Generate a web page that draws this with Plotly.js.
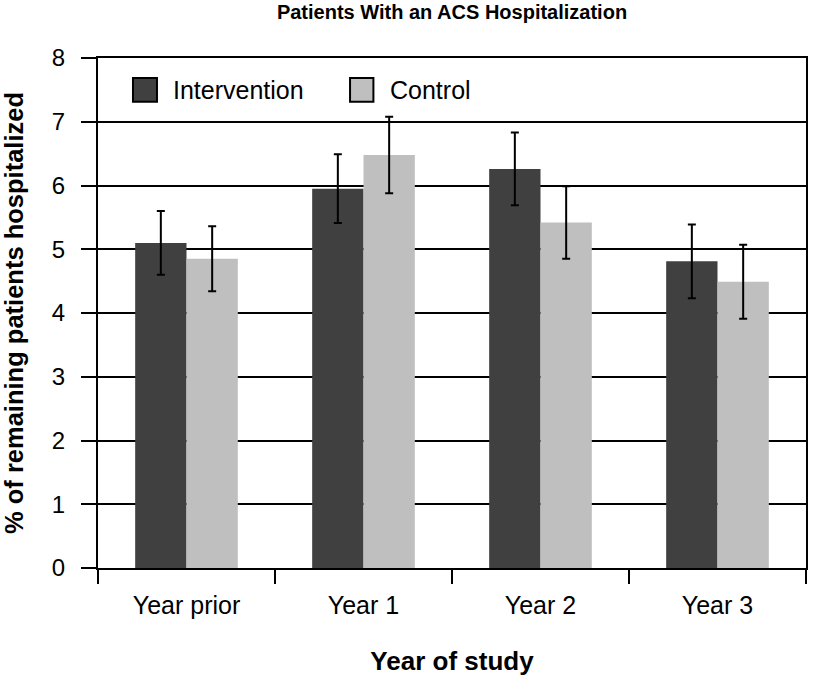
<!DOCTYPE html>
<html>
<head>
<meta charset="utf-8">
<script src="https://cdn.plot.ly/plotly-3.0.1.min.js"></script>
<style>html,body{margin:0;padding:0;background:#fff;}#chart{width:813px;height:678px;}</style>
</head>
<body>
<div id="chart"></div>
<script>
var categories = ["Year prior", "Year 1", "Year 2", "Year 3"];
var interventionValues = [5.10, 5.95, 6.26, 4.81];
var interventionErrors = [0.50, 0.54, 0.57, 0.58];
var controlValues = [4.85, 6.48, 5.42, 4.49];
var controlErrors = [0.51, 0.60, 0.57, 0.58];
var seriesNames = ["Intervention", "Control"];
var yTicks = [0, 1, 2, 3, 4, 5, 6, 7, 8];

var FONT = "Liberation Sans, Arial, sans-serif";
var darkCol = "#404040";
var lightCol = "#bfbfbf";

var traces = [
  {
    type: "bar", name: seriesNames[0], x: categories, y: interventionValues,
    marker: {color: darkCol, line: {width: 0}},
    error_y: {type: "data", array: interventionErrors, visible: true, color: "#000", thickness: 2, width: 4},
    showlegend: false, hoverinfo: "skip"
  },
  {
    type: "bar", name: seriesNames[1], x: categories, y: controlValues,
    marker: {color: lightCol, line: {width: 0}},
    error_y: {type: "data", array: controlErrors, visible: true, color: "#000", thickness: 2, width: 4},
    showlegend: false, hoverinfo: "skip"
  }
];

var layout = {
  width: 813, height: 678,
  margin: {l: 98, r: 7, t: 58, b: 110},
  paper_bgcolor: "#fff", plot_bgcolor: "#fff",
  font: {family: FONT, color: "#000"},
  barmode: "group", bargap: 0.42, bargroupgap: 0,
  title: {text: "<b>Patients With an ACS Hospitalization</b>", x: 0.5, xref: "paper", xanchor: "center",
          y: 1, yref: "container", yanchor: "top", pad: {t: 5},
          font: {family: FONT, size: 20, color: "#000"}},
  xaxis: {
    type: "category", tickson: "boundaries", ticks: "outside", ticklen: 14, tickwidth: 2, tickcolor: "#000",
    showline: true, linecolor: "#000", linewidth: 2, mirror: true, showgrid: false,
    tickfont: {family: FONT, size: 25, color: "#000"}, ticklabelstandoff: 14,
    title: {text: "<b>Year of study</b>", font: {family: FONT, size: 26, color: "#000"}, standoff: 34}
  },
  yaxis: {
    range: [0, 8], tickvals: yTicks, ticks: "outside", ticklen: 15, tickwidth: 2, tickcolor: "#000",
    showline: true, linecolor: "#000", linewidth: 2, mirror: true,
    showgrid: true, gridcolor: "#000", gridwidth: 2, zeroline: false,
    tickfont: {family: FONT, size: 24, color: "#000"}, ticklabelstandoff: 11,
    title: {text: "<b>% of remaining patients hospitalized</b>", font: {family: FONT, size: 25.5, color: "#000"}, standoff: 22}
  },
  shapes: [
    {type: "rect", xref: "paper", yref: "paper", x0: 0.0494, x1: 0.0833, y0: 0.914, y1: 0.961,
     fillcolor: darkCol, line: {color: "#000", width: 2}},
    {type: "rect", xref: "paper", yref: "paper", x0: 0.356, x1: 0.389, y0: 0.914, y1: 0.961,
     fillcolor: lightCol, line: {color: "#000", width: 2}}
  ],
  annotations: [
    {xref: "paper", yref: "paper", x: 0.103, y: 0.937, xanchor: "left", yanchor: "middle", showarrow: false,
     text: seriesNames[0], font: {family: FONT, size: 25, color: "#000"}},
    {xref: "paper", yref: "paper", x: 0.4096, y: 0.937, xanchor: "left", yanchor: "middle", showarrow: false,
     text: seriesNames[1], font: {family: FONT, size: 25, color: "#000"}}
  ]
};

Plotly.newPlot("chart", traces, layout, {displayModeBar: false, staticPlot: true});
</script>
</body>
</html>
